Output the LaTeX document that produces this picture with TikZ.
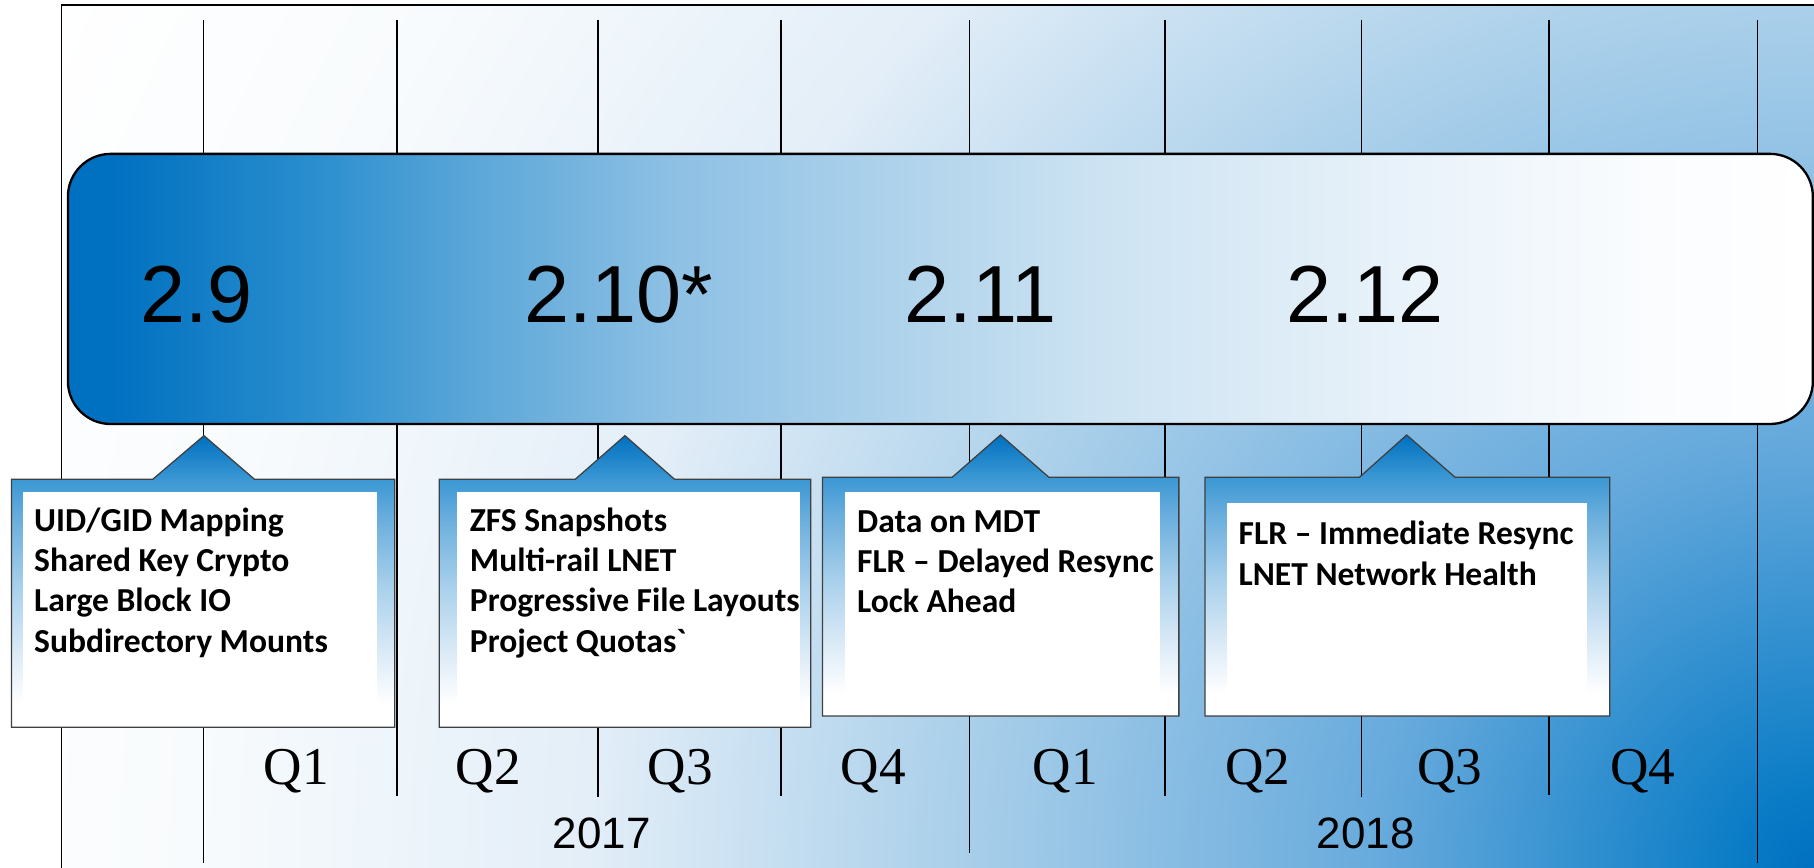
\documentclass[tikz,border=0pt]{standalone}
\usepackage{fontspec}
\setmainfont{Liberation Serif}
\newfontfamily\arialf{Liberation Sans}
\newfontfamily\calib{Carlito}

% colours of the release band, callouts and background
\definecolor{rblue}{HTML}{0070C0}
\definecolor{bgA}{HTML}{0A7CC6}
\definecolor{bgB}{HTML}{65A9DC}
\definecolor{bgC}{HTML}{ABD0EA}
\definecolor{bgD}{HTML}{E3EEF8}
\definecolor{bgE}{HTML}{F8FBFD}
\definecolor{bxA}{HTML}{2A8ECE}
\definecolor{bxB}{HTML}{5AA6D8}
\definecolor{bxC}{HTML}{8DC0E4}
\definecolor{bxD}{HTML}{CDE3F2}
\definecolor{bxE}{HTML}{EAF3FA}
\definecolor{bxF}{HTML}{FAFCFE}
\definecolor{coA}{HTML}{DCEBF7}
\definecolor{coB}{HTML}{A8D0EB}
\definecolor{coC}{HTML}{6AAEDD}
\definecolor{coD}{HTML}{3A97D3}

% background: blue glow from the lower right corner
\pgfdeclareradialshading{bgshade}{\pgfpoint{0bp}{0bp}}{%
  color(0bp)=(rblue); color(1bp)=(bgA); color(5.4bp)=(bgB);
  color(11bp)=(bgC); color(15.6bp)=(bgD); color(20.6bp)=(bgE);
  color(25bp)=(white); color(50bp)=(white)}
% release band: dark blue on the left fading to white on the right
\pgfdeclarehorizontalshading{boxshade}{100bp}{%
  color(0bp)=(rblue); color(26.25bp)=(rblue); color(32bp)=(bxA);
  color(36.5bp)=(bxB); color(42.25bp)=(bxC); color(54.6bp)=(bxD);
  color(63.7bp)=(bxE); color(70.2bp)=(bxF); color(75bp)=(white);
  color(100bp)=(white)}
% feature callouts: blue at the pointer, white at the foot
\pgfdeclareverticalshading{calloutshade}{100bp}{%
  color(0bp)=(white); color(29bp)=(white); color(37.6bp)=(coA);
  color(49.2bp)=(coB); color(60.7bp)=(coC); color(67.6bp)=(coD);
  color(75bp)=(rblue); color(100bp)=(rblue)}

\tikzset{
  gridline/.style={line width=1.3pt, draw=black},
  version/.style={font=\arialf\fontsize{70}{70}\selectfont, anchor=base, inner sep=0pt},
  quarter/.style={font=\fontsize{46}{46}\selectfont, anchor=base, inner sep=0pt},
  yearlabel/.style={font=\arialf\fontsize{38}{38}\selectfont, anchor=base, inner sep=0pt},
  callout/.style={shading=calloutshade, draw=black!75, line width=1.1pt},
  panel/.style={fill=white},
  features/.style={anchor=base west, inner sep=0pt,
    font=\calib\bfseries\fontsize{29}{34.7}\selectfont},
}

\begin{document}
\begin{tikzpicture}[x=1pt, y=-1pt]
\useasboundingbox (0,0) rectangle (1568,750);
\fill[white] (0,0) rectangle (1568,750);

% framed timeline area
\begin{scope}
  \clip (53.2,4.6) rectangle (1568,750);
  \shade[shading=bgshade] (1568,750) circle[radius=1700];
\end{scope}
\draw[line width=1.5pt] (53.2,750) -- (53.2,4.6) -- (1568,4.6);

% quarter and year dividers
\foreach \x/\yb in {176/746, 343/688, 517/689, 675/688, 838/737,
                    1007/688, 1177/689, 1339/687, 1519/746}
  \draw[gridline] (\x,17) -- (\x,\yb);

% release band
\path[shading=boxshade, draw=black, line width=2pt, rounded corners=37]
  (58.7,133) rectangle (1567,366.5);
\node[version] (v29)  at (170,279)  {2.9};
\node[version] (v210) at (535,279)  {2.10*};
\node[version] (v211) at (847.5,279) {2.11};
\node[version] (v212) at (1180,279) {2.12};

% feature callouts
\path[callout] (9.9,414.3) -- (132,414.3) -- (176.3,376.6) -- (220,414.3)
  -- (341.3,414.3) -- (341.3,628.6) -- (9.9,628.6) -- cycle;
\path[callout] (379.7,414.3) -- (497.2,414.3) -- (540.2,376.6) -- (583.1,414.3)
  -- (700.7,414.3) -- (700.7,628.6) -- (379.7,628.6) -- cycle;
\path[callout] (711,412.6) -- (823,412.6) -- (864.8,376) -- (906.7,412.6)
  -- (1019,412.6) -- (1019,618.8) -- (711,618.8) -- cycle;
\path[callout] (1041.5,412.6) -- (1175,412.6) -- (1215.9,376) -- (1257.8,412.6)
  -- (1391.4,412.6) -- (1391.4,618.8) -- (1041.5,618.8) -- cycle;

\fill[panel] (19.9,425.2) rectangle (325.5,610.8);
\fill[panel] (394.6,425.2) rectangle (691.6,610.8);
\fill[panel] (730.6,425.2) rectangle (1002.9,602);
\fill[panel] (1060.4,434.8) rectangle (1371.8,602);

\node[features] (f29) at (29.4,459.5) {\begin{tabular}[t]{@{}l@{}}
  UID/GID Mapping\\ Shared Key Crypto\\ Large Block IO\\ Subdirectory Mounts
  \end{tabular}};
\node[features] (f210) at (406,459.5) {\begin{tabular}[t]{@{}l@{}}
  ZFS Snapshots\\ Multi-rail LNET\\ Progressive File Layouts\\ Project Quotas`
  \end{tabular}};
\node[features] (f211) at (740.7,460.4) {\begin{tabular}[t]{@{}l@{}}
  Data on MDT\\ FLR – Delayed Resync\\ Lock Ahead
  \end{tabular}};
\node[features] (f212) at (1070.5,471) {\begin{tabular}[t]{@{}l@{}}
  FLR – Immediate Resync\\ LNET Network Health
  \end{tabular}};

% quarters and years
\node[quarter] (q1) at (256,678.5)  {Q1};
\node[quarter] (q2) at (422,678.5)  {Q2};
\node[quarter] (q3) at (588,678.5)  {Q3};
\node[quarter] (q4) at (755,678.5)  {Q4};
\node[quarter] (q5) at (921,678.5)  {Q1};
\node[quarter] (q6) at (1087,678.5) {Q2};
\node[quarter] (q7) at (1253,678.5) {Q3};
\node[quarter] (q8) at (1420,678.5) {Q4};
\node[yearlabel] (y2017) at (520,733.8)   {2017};
\node[yearlabel] (y2018) at (1180.6,733.2) {2018};
\end{tikzpicture}
\end{document}
